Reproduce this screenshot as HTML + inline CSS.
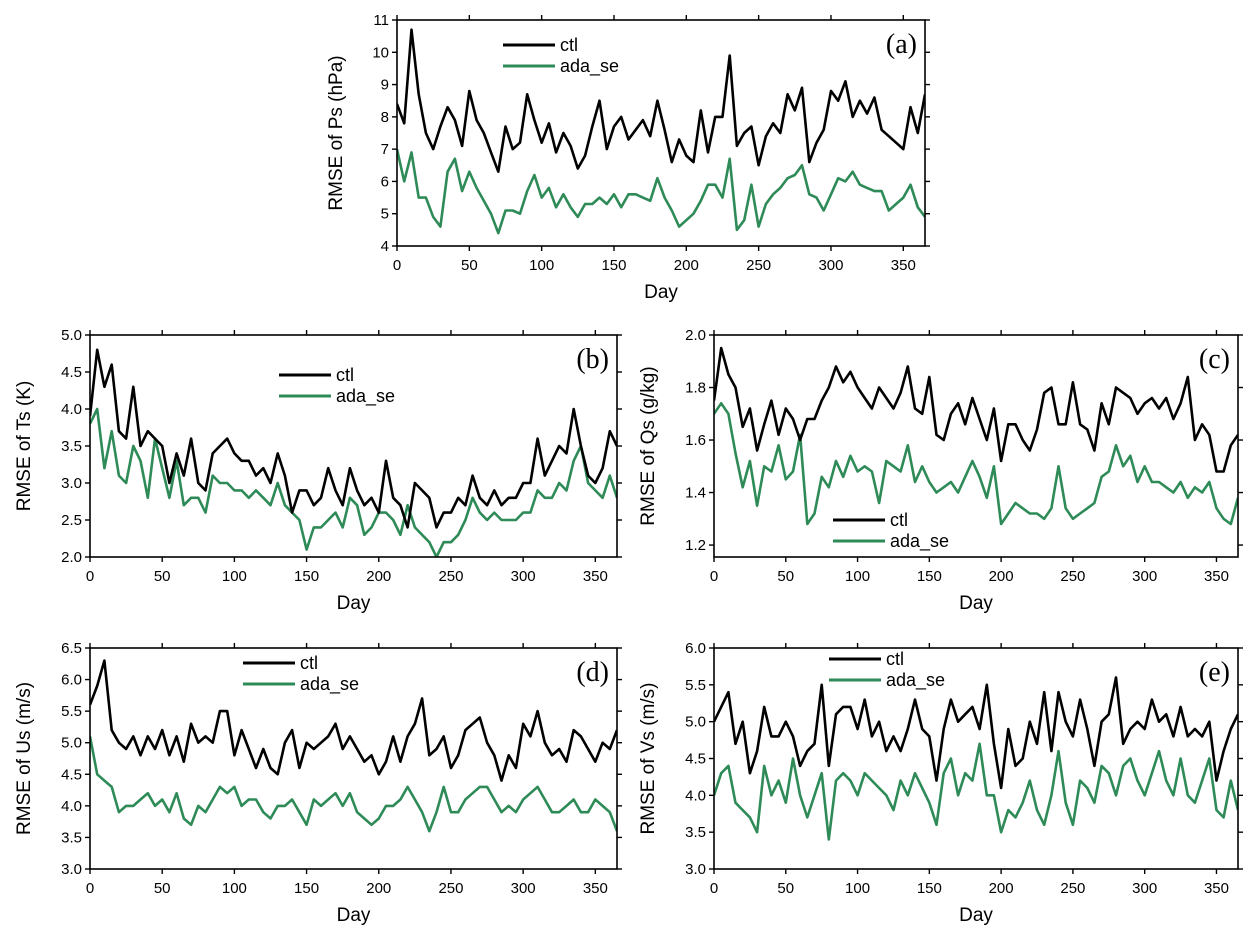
<!DOCTYPE html>
<html><head><meta charset="utf-8"><style>
html,body{margin:0;padding:0;background:#fff}
svg{display:block;font-family:"Liberation Sans",sans-serif}
</style></head><body>
<svg id="fig" width="1253" height="949" viewBox="0 0 1253 949" xmlns="http://www.w3.org/2000/svg"></svg>
<script>
const days = []; for (let d = 0; d <= 365; d += 5) days.push(d);
const psCtl = [8.4,7.8,10.7,8.7,7.5,7.0,7.7,8.3,7.9,7.1,8.8,7.9,7.5,6.9,6.3,7.7,7.0,7.2,8.7,7.9,7.2,7.8,6.9,7.5,7.1,6.4,6.8,7.7,8.5,7.0,7.7,8.0,7.3,7.6,7.9,7.4,8.5,7.6,6.6,7.3,6.8,6.6,8.2,6.9,8.0,8.0,9.9,7.1,7.5,7.7,6.5,7.4,7.8,7.5,8.7,8.2,8.9,6.6,7.2,7.6,8.8,8.5,9.1,8.0,8.5,8.1,8.6,7.6,7.4,7.2,7.0,8.3,7.5,8.7];
const psAda = [7.0,6.0,6.9,5.5,5.5,4.9,4.6,6.3,6.7,5.7,6.3,5.8,5.4,5.0,4.4,5.1,5.1,5.0,5.7,6.2,5.5,5.8,5.2,5.6,5.2,4.9,5.3,5.3,5.5,5.3,5.6,5.2,5.6,5.6,5.5,5.4,6.1,5.5,5.1,4.6,4.8,5.0,5.4,5.9,5.9,5.5,6.7,4.5,4.8,5.9,4.6,5.3,5.6,5.8,6.1,6.2,6.5,5.6,5.5,5.1,5.6,6.1,6.0,6.3,5.9,5.8,5.7,5.7,5.1,5.3,5.5,5.9,5.2,4.9];
const tsCtl = [3.9,4.8,4.3,4.6,3.7,3.6,4.3,3.5,3.7,3.6,3.5,3.0,3.4,3.1,3.6,3.0,2.9,3.4,3.5,3.6,3.4,3.3,3.3,3.1,3.2,3.0,3.4,3.1,2.6,2.9,2.9,2.7,2.8,3.2,2.9,2.7,3.2,2.9,2.7,2.8,2.6,3.3,2.8,2.7,2.4,3.0,2.9,2.8,2.4,2.6,2.6,2.8,2.7,3.1,2.8,2.7,2.9,2.7,2.8,2.8,3.0,3.0,3.6,3.1,3.3,3.5,3.4,4.0,3.5,3.1,3.0,3.2,3.7,3.5];
const tsAda = [3.8,4.0,3.2,3.7,3.1,3.0,3.5,3.3,2.8,3.6,3.2,2.8,3.3,2.7,2.8,2.8,2.6,3.1,3.0,3.0,2.9,2.9,2.8,2.9,2.8,2.7,3.0,2.7,2.6,2.5,2.1,2.4,2.4,2.5,2.6,2.4,2.8,2.7,2.3,2.4,2.6,2.6,2.5,2.3,2.7,2.4,2.3,2.2,2.0,2.2,2.2,2.3,2.5,2.8,2.6,2.5,2.6,2.5,2.5,2.5,2.6,2.6,2.9,2.8,2.8,3.0,2.9,3.3,3.5,3.0,2.9,2.8,3.1,2.8];
const qsCtl = [1.75,1.95,1.85,1.80,1.65,1.72,1.56,1.66,1.75,1.62,1.72,1.68,1.60,1.68,1.68,1.75,1.80,1.88,1.82,1.86,1.80,1.76,1.72,1.80,1.76,1.72,1.78,1.88,1.72,1.70,1.84,1.62,1.60,1.70,1.74,1.66,1.76,1.68,1.60,1.72,1.52,1.66,1.66,1.60,1.56,1.64,1.78,1.80,1.66,1.66,1.82,1.66,1.64,1.56,1.74,1.66,1.80,1.78,1.76,1.70,1.74,1.76,1.72,1.76,1.68,1.74,1.84,1.60,1.66,1.62,1.48,1.48,1.58,1.62];
const qsAda = [1.70,1.74,1.70,1.55,1.42,1.52,1.35,1.50,1.48,1.58,1.45,1.48,1.62,1.28,1.32,1.46,1.42,1.52,1.46,1.54,1.48,1.50,1.48,1.36,1.52,1.50,1.48,1.58,1.44,1.50,1.44,1.40,1.42,1.44,1.40,1.46,1.52,1.46,1.38,1.50,1.28,1.32,1.36,1.34,1.32,1.32,1.30,1.34,1.50,1.34,1.30,1.32,1.34,1.36,1.46,1.48,1.58,1.50,1.54,1.44,1.50,1.44,1.44,1.42,1.40,1.44,1.38,1.42,1.40,1.44,1.34,1.30,1.28,1.38];
const usCtl = [5.6,5.9,6.3,5.2,5.0,4.9,5.1,4.8,5.1,4.9,5.2,4.8,5.1,4.7,5.3,5.0,5.1,5.0,5.5,5.5,4.8,5.2,4.9,4.6,4.9,4.6,4.5,5.0,5.2,4.6,5.0,4.9,5.0,5.1,5.3,4.9,5.1,4.9,4.7,4.8,4.5,4.7,5.1,4.7,5.1,5.3,5.7,4.8,4.9,5.1,4.6,4.8,5.2,5.3,5.4,5.0,4.8,4.4,4.8,4.6,5.3,5.1,5.5,5.0,4.8,4.9,4.7,5.2,5.1,4.9,4.7,5.0,4.9,5.2];
const usAda = [5.1,4.5,4.4,4.3,3.9,4.0,4.0,4.1,4.2,4.0,4.1,3.9,4.2,3.8,3.7,4.0,3.9,4.1,4.3,4.2,4.3,4.0,4.1,4.1,3.9,3.8,4.0,4.0,4.1,3.9,3.7,4.1,4.0,4.1,4.2,4.0,4.2,3.9,3.8,3.7,3.8,4.0,4.0,4.1,4.3,4.1,3.9,3.6,3.9,4.3,3.9,3.9,4.1,4.2,4.3,4.3,4.1,3.9,4.0,3.9,4.1,4.2,4.3,4.1,3.9,3.9,4.0,4.1,3.9,3.9,4.1,4.0,3.9,3.6];
const vsCtl = [5.0,5.2,5.4,4.7,5.0,4.3,4.6,5.2,4.8,4.8,5.0,4.8,4.4,4.6,4.7,5.5,4.4,5.1,5.2,5.2,4.9,5.3,4.8,5.0,4.6,4.8,4.6,4.9,5.3,4.9,4.8,4.2,4.9,5.3,5.0,5.1,5.2,4.9,5.5,4.7,4.1,4.9,4.4,4.5,5.0,4.7,5.4,4.6,5.4,5.0,4.8,5.3,4.9,4.4,5.0,5.1,5.6,4.7,4.9,5.0,4.9,5.3,5.0,5.1,4.8,5.2,4.8,4.9,4.8,5.0,4.2,4.6,4.9,5.1];
const vsAda = [4.0,4.3,4.4,3.9,3.8,3.7,3.5,4.4,4.0,4.2,3.9,4.5,4.0,3.7,4.0,4.3,3.4,4.2,4.3,4.2,4.0,4.3,4.2,4.1,4.0,3.8,4.2,4.0,4.3,4.1,3.9,3.6,4.3,4.5,4.0,4.3,4.2,4.7,4.0,4.0,3.5,3.8,3.7,3.9,4.2,3.8,3.6,4.0,4.6,3.9,3.6,4.2,4.1,3.9,4.4,4.3,4.0,4.4,4.5,4.2,4.0,4.3,4.6,4.2,4.0,4.5,4.0,3.9,4.2,4.5,3.8,3.7,4.2,3.8];
const xTicks = [0,50,100,150,200,250,300,350];

const svg = document.getElementById('fig');
const NS = 'http://www.w3.org/2000/svg';
function mk(tag, attrs, parent) {
  const e = document.createElementNS(NS, tag);
  for (const k in attrs) e.setAttribute(k, attrs[k]);
  parent.appendChild(e);
  return e;
}
function panel(p) {
  const g = mk('g', {}, svg);
  
  
  const xs = d => p.x0 + d * p.w / 365;
  const ys = v => p.top + (p.ymax - v) / (p.ymax - p.ymin) * (p.bot - p.top);
  const right = p.x0 + p.w;
  const cp = mk('clipPath', {id: 'clip' + p.id}, g);
  mk('rect', {x: p.x0, y: p.top, width: p.w, height: p.bot - p.top}, cp);
  const series = [[p.ada, '#2e8b57', 'ada-se-line'], [p.ctl, '#000', 'ctl-line']];
  series.forEach(s => {
    const d = s[0].map((v, i) => (i ? 'L' : 'M') + xs(days[i]).toFixed(1) + ',' + ys(v).toFixed(1)).join('');
    const path = mk('path', {d: d, fill: 'none', stroke: s[1], 'stroke-width': 2.6, 'stroke-linejoin': 'round', 'clip-path': 'url(#clip' + p.id + ')'}, g);
    
    
  });
  const box = mk('rect', {x: p.x0, y: p.top, width: p.w, height: p.bot - p.top, fill: 'none', stroke: '#000', 'stroke-width': 1.6}, g);
  
  
  xTicks.forEach(t => {
    const x = xs(t);
    mk('line', {x1: x, x2: x, y1: p.bot, y2: p.bot + 5, stroke: '#000', 'stroke-width': 1.4}, g);
    mk('line', {x1: x, x2: x, y1: p.top, y2: p.top - 5, stroke: '#000', 'stroke-width': 1.4}, g);
    const tl = mk('text', {x: x, y: p.bot + 24, 'font-size': 15, 'text-anchor': 'middle'}, g);
    tl.textContent = t;
    
    
  });
  p.yTicks.forEach(t => {
    const y = ys(t);
    mk('line', {x1: p.x0 - 5, x2: p.x0, y1: y, y2: y, stroke: '#000', 'stroke-width': 1.4}, g);
    mk('line', {x1: right, x2: right + 5, y1: y, y2: y, stroke: '#000', 'stroke-width': 1.4}, g);
    const tl = mk('text', {x: p.x0 - 8, y: y + 5, 'font-size': 15, 'text-anchor': 'end'}, g);
    tl.textContent = t.toFixed(p.dec);
    
    
  });
  const xt = mk('text', {x: p.x0 + p.w / 2, y: p.bot + 52, 'font-size': 19, 'text-anchor': 'middle'}, g);
  xt.textContent = 'Day';
  
  
  const cy = (p.top + p.bot) / 2;
  const yt = mk('text', {x: p.ytx, y: cy, 'font-size': 19, 'text-anchor': 'middle', transform: 'rotate(-90 ' + p.ytx + ' ' + cy + ')'}, g);
  yt.textContent = p.ylabel;
  
  
  const pl = mk('text', {x: right - 8, y: p.top + 33, 'font-size': 28, 'text-anchor': 'end', 'font-family': 'Liberation Serif, serif'}, g);
  pl.textContent = '(' + p.id + ')';
  
  
  [['ctl', '#000', 0], ['ada_se', '#2e8b57', 21]].forEach(l => {
    const le = mk('g', {}, g);
    
    
    mk('line', {x1: p.lx, x2: p.lx + 52, y1: p.ly + l[2], y2: p.ly + l[2], stroke: l[1], 'stroke-width': 3}, le);
    const t = mk('text', {x: p.lx + 57, y: p.ly + l[2] + 6, 'font-size': 18}, le);
    t.textContent = l[0];
  });
}
panel({id: 'a', x0: 397, w: 528, top: 20, bot: 246, ymin: 4, ymax: 11, yTicks: [4,5,6,7,8,9,10,11], dec: 0, ctl: psCtl, ada: psAda, ylabel: 'RMSE of Ps (hPa)', ytx: 342, lx: 503, ly: 45});
panel({id: 'b', x0: 90, w: 527, top: 335, bot: 557, ymin: 2, ymax: 5, yTicks: [2,2.5,3,3.5,4,4.5,5], dec: 1, ctl: tsCtl, ada: tsAda, ylabel: 'RMSE of Ts (K)', ytx: 30, lx: 279, ly: 375});
panel({id: 'c', x0: 714, w: 524, top: 335, bot: 557, ymin: 1.1545, ymax: 2.0, yTicks: [1.2,1.4,1.6,1.8,2.0], dec: 1, ctl: qsCtl, ada: qsAda, ylabel: 'RMSE of Qs (g/kg)', ytx: 654, lx: 833, ly: 520});
panel({id: 'd', x0: 90, w: 527, top: 648, bot: 869, ymin: 3, ymax: 6.5, yTicks: [3,3.5,4,4.5,5,5.5,6,6.5], dec: 1, ctl: usCtl, ada: usAda, ylabel: 'RMSE of Us (m/s)', ytx: 30, lx: 243, ly: 663});
panel({id: 'e', x0: 714, w: 524, top: 648, bot: 869, ymin: 3, ymax: 6, yTicks: [3,3.5,4,4.5,5,5.5,6], dec: 1, ctl: vsCtl, ada: vsAda, ylabel: 'RMSE of Vs (m/s)', ytx: 654, lx: 829, ly: 659});
</script>
</body></html>
